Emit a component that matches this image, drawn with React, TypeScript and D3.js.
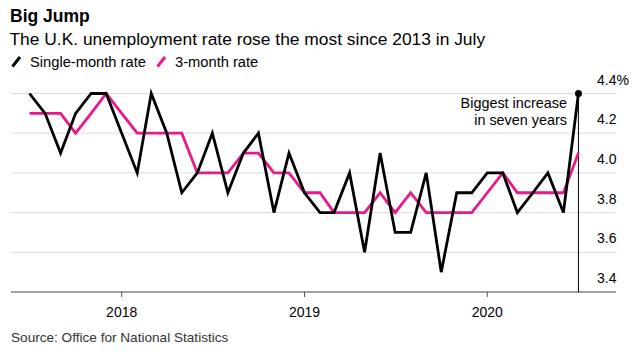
import * as d3 from 'd3';

// monthly, Jul 2017 .. Jul 2020
const startMonth = new Date(2017, 6, 1);
const singleMonth = [
  4.4, 4.3, 4.1, 4.3, 4.4, 4.4, 4.2, 4.0, 4.4, 4.2, 3.9, 4.0, 4.2,
  3.9, 4.1, 4.2, 3.8, 4.1, 3.9, 3.8, 3.8, 4.0, 3.6, 4.1, 3.7, 3.7,
  4.0, 3.5, 3.9, 3.9, 4.0, 4.0, 3.8, 3.9, 4.0, 3.8, 4.4,
];
const threeMonth = [
  4.3, 4.3, 4.3, 4.2, 4.3, 4.4, 4.3, 4.2, 4.2, 4.2, 4.2, 4.0, 4.0,
  4.0, 4.1, 4.1, 4.0, 4.0, 3.9, 3.9, 3.8, 3.8, 3.8, 3.9, 3.8, 3.9,
  3.8, 3.8, 3.8, 3.8, 3.9, 4.0, 3.9, 3.9, 3.9, 3.9, 4.1,
];
const yTicks = [3.4, 3.6, 3.8, 4.0, 4.2, 4.4];
const yearTicks = [2018, 2019, 2020];

const W = 640;
const H = 352;
const FONT = '"Liberation Sans", Arial, Helvetica, sans-serif';
const PINK = '#e8198b';

export default function App() {
  const dates = singleMonth.map((_, i) => d3.timeMonth.offset(startMonth, i));

  const x = d3.scaleTime()
    .domain([new Date(2018, 0, 1), new Date(2020, 0, 1)])
    .range([121.7, 487.3]);
  const y = d3.scaleLinear().domain([3.4, 4.4]).range([292, 93.5]);

  const line = d3.line<number>()
    .x((_, i) => x(dates[i]))
    .y((d) => y(d));

  const last = singleMonth.length - 1;
  const lx = x(dates[last]);
  const ly = y(singleMonth[last]);

  return (
    <svg width={W} height={H} style={{ position: 'absolute', left: 0, top: 0, background: '#fff' }} fontFamily={FONT}>
      {/* header */}
      <text x={10} y={22} fontSize={17.5} fontWeight={700} fill="#000">Big Jump</text>
      <text x={9.5} y={44.5} fontSize={17.4} fill="#000">The U.K. unemployment rate rose the most since 2013 in July</text>

      {/* legend */}
      <line x1={12.5} y1={66.5} x2={20} y2={57} stroke="#000" strokeWidth={3} />
      <text x={30} y={66.5} fontSize={14.7} fill="#000">Single-month rate</text>
      <line x1={157.5} y1={66.5} x2={165} y2={57} stroke={PINK} strokeWidth={3} />
      <text x={175} y={66.5} fontSize={14.7} fill="#000">3-month rate</text>

      {/* gridlines */}
      {yTicks.slice(1).map((t) => (
        <line key={t} x1={11} x2={616} y1={y(t)} y2={y(t)} stroke="#dcdcdc" strokeWidth={1} />
      ))}
      {yTicks.map((t) => (
        <text key={'l' + t} x={597} y={y(t) - 9} fontSize={14} fill="#000">
          {t.toFixed(1) + (t === 4.4 ? '%' : '')}
        </text>
      ))}

      {/* x axis */}
      <line x1={11} x2={616} y1={y(3.4)} y2={y(3.4)} stroke="#808080" strokeWidth={1.5} />
      {yearTicks.map((yr) => {
        const tx = x(new Date(yr, 0, 1));
        return (
          <g key={yr}>
            <line x1={tx} x2={tx} y1={y(3.4)} y2={y(3.4) + 5} stroke="#555" strokeWidth={1} />
            <text x={tx} y={316.5} textAnchor="middle" fontSize={14} fill="#000">{yr}</text>
          </g>
        );
      })}

      {/* annotation */}
      <line x1={lx} x2={lx} y1={ly} y2={y(3.4)} stroke="#000" strokeWidth={1} />
      <text x={567} y={108} textAnchor="end" fontSize={14.4} fill="#000">Biggest increase</text>
      <text x={567} y={124.5} textAnchor="end" fontSize={14.4} fill="#000">in seven years</text>

      {/* series */}
      <path d={line(threeMonth) ?? ''} fill="none" stroke={PINK} strokeWidth={2.8} strokeLinejoin="miter" />
      <path d={line(singleMonth) ?? ''} fill="none" stroke="#000" strokeWidth={2.8} strokeLinejoin="miter" />
      <circle cx={lx} cy={ly} r={3.5} fill="#000" />

      <text x={11} y={341.5} fontSize={13.6} fill="#333">Source: Office for National Statistics</text>
    </svg>
  );
}
